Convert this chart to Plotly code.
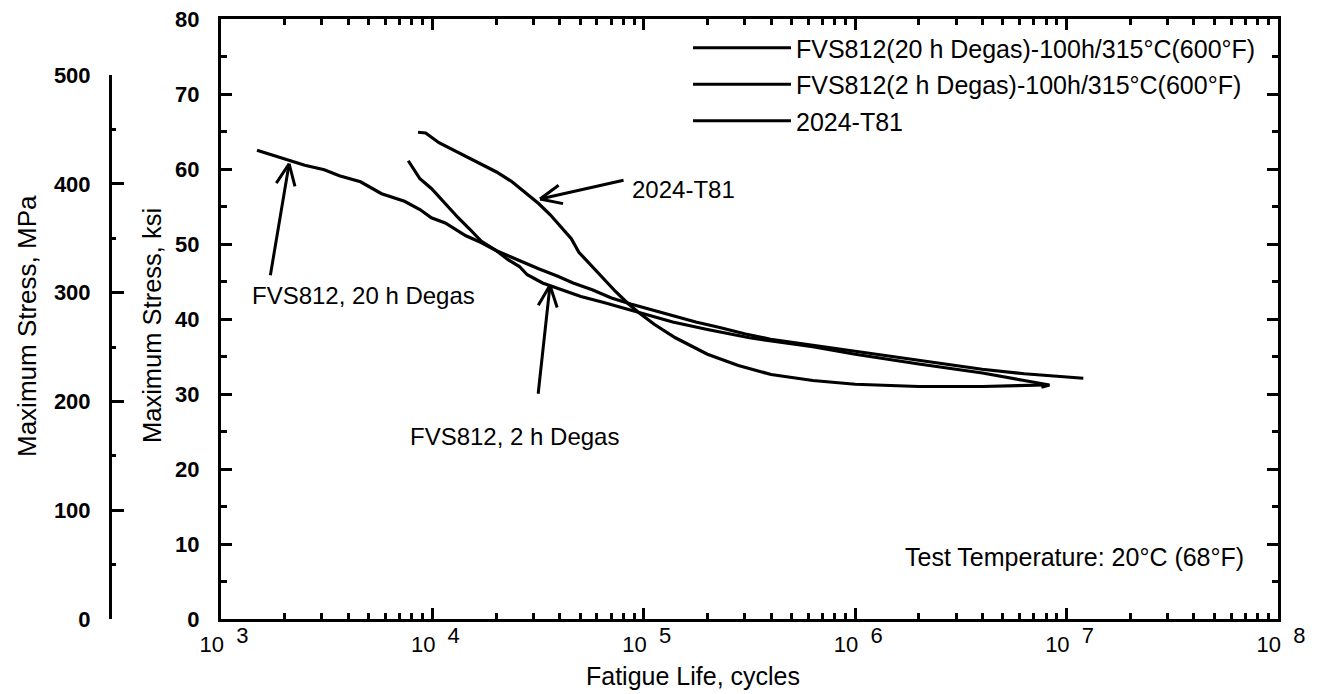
import math
import plotly.graph_objects as go

W, H = 1322, 694

# ---------------- data (fatigue life in cycles, max stress in ksi) ----------------
n_20h = [1480, 2030, 2490, 3080, 3630, 4570, 5750, 7380, 8730, 9890, 11500, 14400,
         17000, 20100, 23800, 26900, 31800, 39200, 46300, 57000, 70300, 86700,
         106700, 137000, 176200, 226000, 302700, 398000, 631000, 1.0e6, 1.58e6,
         2.51e6, 3.98e6, 6.31e6, 1.0e7, 1.2e7]
s_20h = [62.5, 61.3, 60.5, 59.9, 59.1, 58.3, 56.7, 55.7, 54.6, 53.5, 52.8, 51.1,
         50.2, 49.1, 48.2, 47.5, 46.7, 45.7, 44.8, 43.9, 42.8, 42.0,
         41.3, 40.4, 39.6, 38.9, 38.0, 37.3, 36.5, 35.6, 34.8,
         34.0, 33.3, 32.7, 32.3, 32.1]

n_2h = [7690, 8730, 9890, 11200, 13240, 15000, 17000, 20100, 22800, 25800, 28100,
        33200, 40800, 50400, 64700, 83200, 106700, 137000, 200000, 316000, 630000,
        1.0e6, 2.0e6, 4.0e6, 6.3e6, 8.3e6, 7.6e6]
s_2h = [61.1, 58.7, 57.4, 55.7, 53.5, 52.0, 50.4, 49.1, 47.9, 47.0, 45.9,
        44.8, 43.9, 43.0, 42.2, 41.3, 40.4, 39.6, 38.6, 37.5, 36.3,
        35.3, 34.0, 32.8, 31.8, 31.2, 30.9]

n_2024 = [8550, 9290, 10740, 13240, 17000, 20100, 23800, 28100, 31800, 36100, 40800,
          45400, 49300, 57000, 64700, 73300, 83200, 94200, 112000, 141000, 200000,
          280000, 400000, 630000, 1.0e6, 2.0e6, 4.0e6, 6.3e6, 7.9e6]
s_2024 = [64.9, 64.8, 63.5, 62.2, 60.7, 59.6, 58.3, 56.7, 55.4, 53.9, 52.2,
          50.7, 48.9, 47.0, 45.2, 43.7, 42.2, 40.9, 39.3, 37.5, 35.3,
          33.8, 32.6, 31.8, 31.3, 31.0, 31.0, 31.1, 31.2]

series_names = ["FVS812(20 h Degas)-100h/315\u00b0C(600\u00b0F)",
                "FVS812(2 h Degas)-100h/315\u00b0C(600\u00b0F)",
                "2024-T81"]

x_tick_vals = [1e3, 1e4, 1e5, 1e6, 1e7, 1e8]
x_tick_exp = ["3", "4", "5", "6", "7", "8"]
x_minor_vals = [m * 10 ** d for d in range(3, 8) for m in range(2, 10)]
ksi_ticks = [0, 10, 20, 30, 40, 50, 60, 70, 80]
ksi_minor = [5, 15, 25, 35, 45, 55, 65, 75]
mpa_ticks = [0, 100, 200, 300, 400, 500]
mpa_minor = [50, 150, 250, 350, 450]

# callouts: label, arrow tip (cycles, ksi), shaft vector to tail in px
callout_labels = ["2024-T81", "FVS812, 20 h Degas", "FVS812, 2 h Degas"]
callout_tip_n = [32300, 2100, 36000]
callout_tip_s = [56.0, 60.7, 44.5]
callout_shaft = [(85, -19), (-19, 113), (-12, 110)]
callout_text_px = [(630, 189, "left"), (250, 296, "left"), (408, 436, "left")]
note_text = "Test Temperature: 20\u00b0C (68\u00b0F)"

KSI_TO_MPA = 6.89476

# ---------------- layout geometry (px) ----------------
X0, X1 = 221, 1278
Y_TOP, Y_BOT = 19, 619
MPA_X = 110
FONT = "Liberation Sans, Arial, Helvetica, sans-serif"
TXT = 24


def fx(px):
    return px / W


def fy(py):
    return 1 - py / H


ksi_per_px = 80.0 / (Y_BOT - Y_TOP)
mpa_top_px = Y_BOT - (500 / KSI_TO_MPA) / ksi_per_px

fig = go.Figure()
for n, s, name in zip([n_20h, n_2h, n_2024], [s_20h, s_2h, s_2024], series_names):
    fig.add_trace(go.Scatter(x=n, y=s, mode="lines", name=name, legendgroup=name,
                             line=dict(color="black", width=3.2),
                             xaxis="x", yaxis="y"))

# invisible helper traces so that the MPa axis and the minor-tick axes exist
for xa, ya in [("x", "y2"), ("x2", "y3"), ("x", "y4")]:
    fig.add_trace(go.Scatter(x=[1e3], y=[0], mode="markers", marker=dict(opacity=0),
                             showlegend=False, hoverinfo="skip", xaxis=xa, yaxis=ya))

base = dict(showgrid=False, zeroline=False, automargin=False, ticks="inside",
            tickcolor="black", tickwidth=2.5)

fig.update_layout(
    template="none",
    width=W, height=H,
    margin=dict(l=0, r=0, t=0, b=0, pad=0),
    paper_bgcolor="white", plot_bgcolor="rgba(0,0,0,0)",
    font=dict(family=FONT, color="black", size=TXT),
    showlegend=True,
    hovermode=False,
    legend=dict(x=fx(688), y=fy(25), xanchor="left", yanchor="top",
                bgcolor="rgba(0,0,0,0)", borderwidth=0,
                font=dict(size=25, family=FONT),
                itemwidth=98, tracegroupgap=1, traceorder="grouped"),
    xaxis=dict(type="log", range=[3, 8], domain=[fx(X0), fx(X1)], anchor="y",
               showline=True, linecolor="black", linewidth=3, mirror="ticks", ticklen=11,
               tickvals=x_tick_vals,
               ticktext=["10 <sup><span style='font-size:22px'>&nbsp;%s</span></sup>" % e
                         for e in x_tick_exp],
               tickfont=dict(size=22, family=FONT), ticklabelstandoff=4, ticklabelshift=3,
               **base),
    xaxis2=dict(type="log", range=[3, 8], overlaying="x", anchor="y", showline=False,
                mirror="ticks", ticklen=6, tickvals=x_minor_vals, showticklabels=False,
                **base),
    yaxis=dict(range=[0, 80], domain=[fy(Y_BOT), fy(Y_TOP)], anchor="x",
               showline=True, linecolor="black", linewidth=3, mirror="ticks", ticklen=11,
               tickvals=ksi_ticks,
               tickfont=dict(size=22, family=FONT, weight="bold"), ticklabelstandoff=14,
               **base),
    yaxis3=dict(range=[0, 80], overlaying="y", anchor="x2", showline=False,
                mirror="ticks", ticklen=6, tickvals=ksi_minor, showticklabels=False, **base),
    yaxis2=dict(range=[0, 500], domain=[fy(Y_BOT), fy(mpa_top_px)], anchor="free",
                position=fx(MPA_X), side="left", showline=True, linecolor="black",
                linewidth=3, ticklen=12, tickvals=mpa_ticks,
                tickfont=dict(size=22, family=FONT, weight="bold"), ticklabelstandoff=14,
                **base),
    yaxis4=dict(range=[0, 500], overlaying="y2", anchor="free", position=fx(MPA_X),
                side="left", showline=False, ticklen=5, tickvals=mpa_minor,
                showticklabels=False, **base),
)

annotations = []
for lab, tn, ts, (dx, dy), (tx, ty, anc) in zip(callout_labels, callout_tip_n, callout_tip_s,
                                                 callout_shaft, callout_text_px):
    lx = math.log10(tn)
    annotations.append(dict(x=lx, y=ts, xref="x", yref="y", ax=dx, ay=dy, text="",
                            showarrow=True, arrowhead=0, arrowwidth=3, arrowcolor="black",
                            standoff=0, startstandoff=0))
    L = math.hypot(dx, dy)
    ux, uy = dx / L, dy / L
    for ang in (24, -24):
        a = math.radians(ang)
        bx = 25 * (ux * math.cos(a) - uy * math.sin(a))
        by = 25 * (ux * math.sin(a) + uy * math.cos(a))
        annotations.append(dict(x=lx, y=ts, xref="x", yref="y", ax=bx, ay=by, text="",
                                showarrow=True, arrowhead=0, arrowwidth=3, arrowcolor="black",
                                standoff=0, startstandoff=0))
    annotations.append(dict(x=fx(tx), y=fy(ty), xref="paper", yref="paper", text=lab,
                            showarrow=False, xanchor=anc, yanchor="middle",
                            font=dict(size=TXT, family=FONT)))

annotations.append(dict(x=fx(1246), y=fy(557), xref="paper", yref="paper", text=note_text,
                        showarrow=False, xanchor="right", yanchor="middle",
                        font=dict(size=25, family=FONT)))
# axis titles
annotations.append(dict(x=fx(693), y=fy(676), xref="paper", yref="paper",
                        text="Fatigue Life, cycles", showarrow=False,
                        xanchor="center", yanchor="middle", font=dict(size=25, family=FONT)))
annotations.append(dict(x=fx(152), y=fy(326), xref="paper", yref="paper",
                        text="Maximum Stress, ksi", showarrow=False, textangle=-90,
                        xanchor="center", yanchor="middle", font=dict(size=25.5, family=FONT)))
annotations.append(dict(x=fx(27), y=fy(326), xref="paper", yref="paper",
                        text="Maximum Stress, MPa", showarrow=False, textangle=-90,
                        xanchor="center", yanchor="middle", font=dict(size=26, family=FONT)))
fig.update_layout(annotations=annotations)

fig.write_html("out.html")
